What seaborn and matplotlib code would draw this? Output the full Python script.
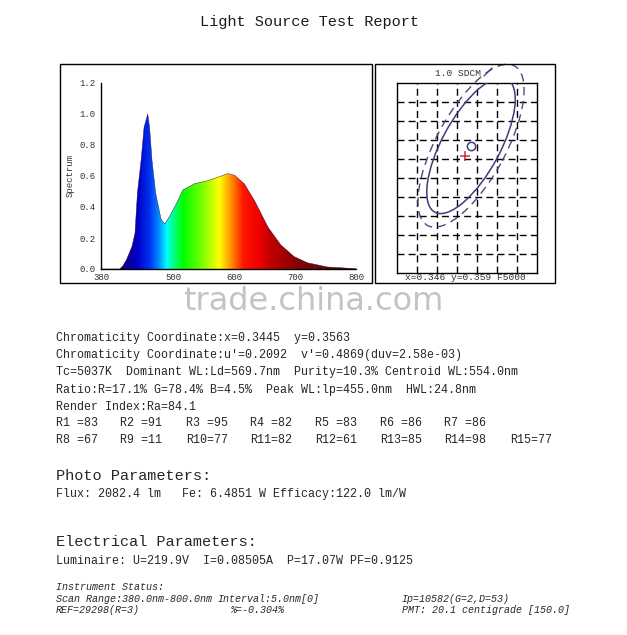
import numpy as np
import matplotlib
matplotlib.use('Agg')
import matplotlib.pyplot as plt
import seaborn as sns
from matplotlib.colors import LinearSegmentedColormap
from matplotlib.patches import Ellipse, Rectangle
from matplotlib.lines import Line2D

# spectrum
wavelength = [380, 400, 411, 416, 422, 431, 436, 440, 446, 451, 457, 460, 464, 470, 479,
              485, 493, 504, 515, 534, 556, 578, 589, 600, 616, 633, 655, 676, 698, 720,
              753, 800]
spectrum = [0.0, 0.0, 0.0, 0.02, 0.06, 0.145, 0.23, 0.49, 0.70, 0.915, 1.0, 0.915, 0.70,
            0.49, 0.32, 0.29, 0.34, 0.42, 0.51, 0.55, 0.57, 0.60, 0.615, 0.605, 0.55, 0.44,
            0.27, 0.156, 0.08, 0.04, 0.013, 0.002]
x_ticks = [380, 400, 500, 600, 700, 800]
x_tick_labels = ['380', '', '500', '600', '700', '800']
y_ticks = [0.0, 0.2, 0.4, 0.6, 0.8, 1.0, 1.2]

# chromaticity
measured_xy = (0.3445, 0.3563)
sdcm_center = (0.346, 0.359)
sdcm_semi_axes = (0.0197, 0.0073)
sdcm_angle = 63
outer_scale = 1.2

title = 'Light Source Test Report'
report_lines = [
    'Chromaticity Coordinate:x=0.3445  y=0.3563',
    "Chromaticity Coordinate:u'=0.2092  v'=0.4869(duv=2.58e-03)",
    'Tc=5037K  Dominant WL:Ld=569.7nm  Purity=10.3% Centroid WL:554.0nm',
    'Ratio:R=17.1% G=78.4% B=4.5%  Peak WL:lp=455.0nm  HWL:24.8nm',
    'Render Index:Ra=84.1',
]
r_row1 = ['R1 =83', 'R2 =91', 'R3 =95', 'R4 =82', 'R5 =83', 'R6 =86', 'R7 =86']
r_row2 = ['R8 =67', 'R9 =11', 'R10=77', 'R11=82', 'R12=61', 'R13=85', 'R14=98', 'R15=77']
photo_head = 'Photo Parameters:'
photo_line = 'Flux: 2082.4 lm   Fe: 6.4851 W Efficacy:122.0 lm/W'
elec_head = 'Electrical Parameters:'
elec_line = 'Luminaire: U=219.9V  I=0.08505A  P=17.07W PF=0.9125'
inst_left = ['Instrument Status:', 'Scan Range:380.0nm-800.0nm', 'REF=29298(R=3)']
inst_mid = ['Interval:5.0nm[0]', '%=-0.304%']
inst_right = ['Ip=10582(G=2,D=53)', 'PMT: 20.1 centigrade [150.0]']

sns.set_style('white')
plt.rcParams['font.family'] = ['Liberation Mono', 'DejaVu Sans']

W, H = 627, 635
fig = plt.figure(figsize=(W / 100, H / 100), dpi=100)

def fx(px):
    return px / W

def fy(py):
    return 1 - py / H

def txt(px, py, s, size=8.4, **kw):
    kw.setdefault('color', '#262626')
    fig.text(fx(px), fy(py), s, fontsize=size, va='center', ha=kw.pop('ha', 'left'), **kw)

# frames
for (x0, y0, x1, y1) in [(60, 64, 372, 283), (375, 64, 555, 283)]:
    fig.add_artist(Rectangle((fx(x0), fy(y1)), fx(x1 - x0), (y1 - y0) / H,
                             transform=fig.transFigure, fill=False, ec='black', lw=1))

txt(310, 22, title, size=11, ha='center', color='#1a1a1a')

# spectrum panel
ax = fig.add_axes([fx(101), fy(269), fx(255), 186 / H])
sns.lineplot(x=wavelength, y=spectrum, ax=ax, color='#30003a', linewidth=0.3)
poly = ax.fill_between(wavelength, spectrum, color='none', lw=0)
wl_cmap = LinearSegmentedColormap.from_list('wl', [
    (0.0, (0.0, 0.0, 0.35)), ((420 - 380) / 420, (0.05, 0.0, 0.55)),
    ((440 - 380) / 420, (0.0, 0.0, 0.78)), ((460 - 380) / 420, (0.0, 0.2, 0.95)),
    ((475 - 380) / 420, (0.0, 0.55, 1.0)), ((488 - 380) / 420, (0.0, 1.0, 1.0)),
    ((500 - 380) / 420, (0.0, 1.0, 0.5)), ((515 - 380) / 420, (0.0, 1.0, 0.0)),
    ((545 - 380) / 420, (0.45, 1.0, 0.0)), ((575 - 380) / 420, (1.0, 1.0, 0.0)),
    ((595 - 380) / 420, (1.0, 0.55, 0.0)), ((615 - 380) / 420, (1.0, 0.08, 0.0)),
    ((640 - 380) / 420, (0.95, 0.0, 0.0)), ((660 - 380) / 420, (0.75, 0.0, 0.0)),
    ((700 - 380) / 420, (0.55, 0.0, 0.0)), ((750 - 380) / 420, (0.38, 0.04, 0.04)),
    (1.0, (0.25, 0.0, 0.0))])
grad = np.linspace(0, 1, 512).reshape(1, -1)
im = ax.imshow(grad, extent=[380, 800, 0, 1.2], aspect='auto', cmap=wl_cmap,
               origin='lower', zorder=1)
im.set_clip_path(poly.get_paths()[0], transform=ax.transData)
ax.set_xlim(380, 800)
ax.set_ylim(0, 1.2)
ax.set_xticks(x_ticks)
ax.set_xticklabels(x_tick_labels)
ax.set_yticks(y_ticks)
ax.set_yticklabels([f'{v:.1f}' for v in y_ticks])
ax.tick_params(direction='out', length=3, width=0.8, labelsize=6.5, pad=1,
               colors='black', labelcolor='#333333')
ax.tick_params(axis='x', pad=0)
for s in ['top', 'right']:
    ax.spines[s].set_visible(False)
for s in ['left', 'bottom']:
    ax.spines[s].set_color('black')
    ax.spines[s].set_linewidth(1)
ax.set_ylabel('Spectrum', fontsize=6.5, color='#333333', labelpad=3)
ax.set_xlabel('')

# chromaticity panel
gx = fig.add_axes([fx(397), fy(273), fx(140), 190 / H])
gx.set_xlim(0.3275, 0.3625)
gx.set_ylim(0.3255, 0.3755)
gx.set_xticks(np.arange(0.3275, 0.3626, 0.005)[1:-1])
gx.set_yticks(np.arange(0.3255, 0.3756, 0.005)[1:-1])
gx.set_xticklabels([])
gx.set_yticklabels([])
gx.tick_params(length=0)
gx.grid(True, color='black', linestyle=(0, (5, 3)), linewidth=1)
for s in gx.spines.values():
    s.set_color('black')
    s.set_linewidth(1)
gx.add_patch(Ellipse(sdcm_center, 2 * sdcm_semi_axes[0], 2 * sdcm_semi_axes[1],
                     angle=sdcm_angle, fill=False, ec='#3d3d7a', lw=1.1, zorder=3))
gx.add_patch(Ellipse(sdcm_center, 2 * sdcm_semi_axes[0] * outer_scale,
                     2 * sdcm_semi_axes[1] * outer_scale, angle=sdcm_angle, fill=False,
                     ec='#4a4a80', lw=1.0, ls=(0, (6, 4)), zorder=3, clip_on=False))
gx.plot([sdcm_center[0]], [sdcm_center[1]], marker='o', ms=6, mfc='white',
        mec='#3d3d8a', mew=1.1, ls='none', zorder=4)
gx.plot([measured_xy[0]], [measured_xy[1]], marker='+', ms=7, color='#cc3333',
        mew=1.1, ls='none', zorder=4)
txt(458, 74, '1.0 SDCM', size=6.8, ha='center', color='#333333')
fig.add_artist(Line2D([fx(484), fx(492)], [fy(76), fy(68)], transform=fig.transFigure,
                      color='#3d3d7a', lw=0.9))
txt(465, 277, 'x=0.346 y=0.359 F5000', size=6.8, ha='center', color='#333333')

# watermark
fig.text(fx(313), fy(302), 'trade.china.com', fontsize=23, family='DejaVu Sans',
         color='#bdbdbd', ha='center', va='center', alpha=0.9)

# report text
for i, line in enumerate(report_lines):
    txt(56, 338 + i * 17.2, line)
r_x = [56, 120, 186, 250, 315, 380, 444, 510]
for x, s in zip(r_x, r_row1):
    txt(x, 423, s)
for x, s in zip(r_x, r_row2):
    txt(x, 440, s)
txt(56, 476, photo_head, size=11)
txt(56, 494, photo_line)
txt(56, 542, elec_head, size=11)
txt(56, 561, elec_line)
for i, s in enumerate(inst_left):
    txt(56, 587 + i * 11.5, s, size=7.2, style='italic')
for i, s in enumerate(inst_mid):
    txt(218 if i == 0 else 230, 598.5 + i * 11.5, s, size=7.2, style='italic')
for i, s in enumerate(inst_right):
    txt(402, 598.5 + i * 11.5, s, size=7.2, style='italic')

fig.savefig('out.png', dpi=100, facecolor='white')
